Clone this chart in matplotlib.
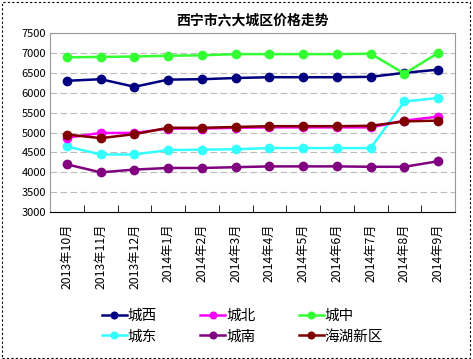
import numpy as np
import matplotlib
matplotlib.use("Agg")
import matplotlib.pyplot as plt
from matplotlib.patches import Rectangle

plt.rcParams['font.family'] = ['Noto Sans CJK SC', 'DejaVu Sans']

months = ["2013年10月", "2013年11月", "2013年12月", "2014年1月", "2014年2月", "2014年3月",
          "2014年4月", "2014年5月", "2014年6月", "2014年7月", "2014年8月", "2014年9月"]
west = [6300, 6340, 6150, 6330, 6340, 6370, 6390, 6390, 6390, 6400, 6500, 6580]
north = [4870, 4990, 4990, 5100, 5100, 5120, 5130, 5130, 5130, 5130, 5300, 5400]
center = [6890, 6900, 6910, 6930, 6940, 6970, 6970, 6970, 6970, 6980, 6480, 7000]
east = [4650, 4450, 4450, 4560, 4570, 4580, 4610, 4610, 4610, 4610, 5780, 5870]
south = [4200, 4000, 4070, 4110, 4110, 4130, 4150, 4150, 4150, 4140, 4140, 4280]
haihu = [4950, 4860, 4960, 5120, 5120, 5140, 5160, 5160, 5160, 5170, 5280, 5300]

# legend fills column-wise, so order to get the reference's row layout
series = [("城西", west, "#000080"), ("城东", east, "#33FFFF"),
          ("城北", north, "#FF00FF"), ("城南", south, "#800080"),
          ("城中", center, "#33FF33"), ("海湖新区", haihu, "#800000")]

fig = plt.figure(figsize=(4.73, 3.59), dpi=100)
fig.patches.append(Rectangle((0.004, 0.004), 0.99, 0.99, transform=fig.transFigure,
                             fill=False, ls=(0, (2, 2)), lw=0.8, color="black"))
ax = fig.add_axes([0.106, 0.409, 0.856, 0.499])

x = np.arange(len(months))
for name, vals, col in series:
    ax.plot(x, vals, color=col, lw=1.8, marker="o", ms=6, label=name)

ax.set_xlim(-0.5, len(months) - 0.5)
ax.set_ylim(3000, 7500)
ax.set_yticks(np.arange(3000, 7501, 500))
ax.tick_params(axis="y", length=0, labelsize=8, pad=3)
ax.set_xticks(x)
ax.set_xticklabels(months, rotation=90, fontsize=8.8)
ax.tick_params(axis="x", length=0, pad=8)
ax.set_xticks(np.arange(-0.5, len(months)), minor=True)
ax.tick_params(axis="x", which="minor", length=5, direction="in", color="black")
ax.grid(axis="y", color="#BBBBBB", ls=(0, (6, 3)), lw=0.8)
ax.set_axisbelow(True)
for s in ["top", "right", "left"]:
    ax.spines[s].set_color("#999999")
ax.spines["bottom"].set_color("black")

ax.set_title("西宁市六大城区价格走势", fontsize=10, fontweight="bold", pad=6)

leg = fig.legend(loc="upper left", bbox_to_anchor=(0.2, 0.16), ncol=3, frameon=False,
                 fontsize=10.5, handlelength=1.7, columnspacing=3.0, labelspacing=0.45,
                 handletextpad=0.05, borderpad=0, markerscale=0.8)

fig.savefig("out.png", dpi=100)
